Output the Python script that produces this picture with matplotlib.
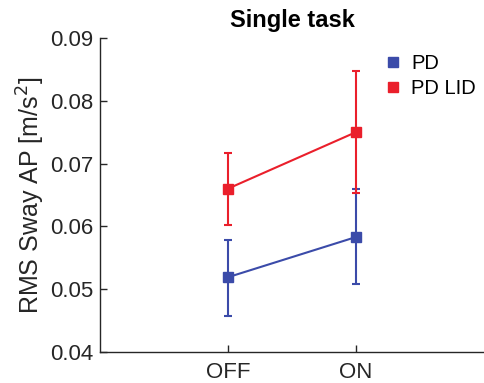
import matplotlib
matplotlib.use("Agg")
import matplotlib.pyplot as plt
from matplotlib.lines import Line2D

plt.rcParams['font.family'] = ['Liberation Sans', 'DejaVu Sans']

conditions = ["OFF", "ON"]
x_pos = [1, 2]
pd_mean = [0.0519, 0.0583]
pd_low = [0.0458, 0.0508]
pd_high = [0.0579, 0.0659]
lid_mean = [0.0660, 0.0750]
lid_low = [0.0602, 0.0653]
lid_high = [0.0717, 0.0848]
series_names = ["PD", "PD LID"]
colors = ["#3b4ba9", "#ea1f2b"]

fig = plt.figure(figsize=(4.85, 3.83), dpi=100)
ax = fig.add_axes([0.206, 0.081, 0.792, 0.820])

for mean, lo, hi, c in [(pd_mean, pd_low, pd_high, colors[0]),
                        (lid_mean, lid_low, lid_high, colors[1])]:
    yerr = [[m - l for m, l in zip(mean, lo)], [h - m for m, h in zip(mean, hi)]]
    ax.errorbar(x_pos, mean, yerr=yerr, color=c, marker='s', markersize=7.5,
                linewidth=1.5, elinewidth=1.5, capsize=3, capthick=1.5)

ax.set_xlim(0, 3)
ax.set_ylim(0.04, 0.09)
ax.set_xticks(x_pos)
ax.set_xticklabels(conditions)
ax.set_yticks([0.04, 0.05, 0.06, 0.07, 0.08, 0.09])
ax.set_yticklabels(["0.04", "0.05", "0.06", "0.07", "0.08", "0.09"])
ax.spines['top'].set_visible(False)
ax.spines['right'].set_visible(False)
for s in ['left', 'bottom']:
    ax.spines[s].set_color('#262626')
    ax.spines[s].set_linewidth(1.0)
ax.tick_params(direction='in', length=5, labelsize=16, colors='#262626', width=1.0)
ax.tick_params(axis='y', pad=5)
ax.tick_params(axis='x', pad=7.5)
ax.set_ylabel("RMS Sway AP [m/s$^2$]", fontsize=18, color='#262626', labelpad=2)
ax.set_title("Single task", fontsize=17, fontweight='bold', pad=8)

handles = [Line2D([], [], color=c, marker='s', linestyle='none', markersize=7.5) for c in colors]
ax.legend(handles, series_names, loc='upper right', frameon=False, fontsize=14.5,
          handletextpad=0.3, handlelength=1.2, borderaxespad=0.0, labelspacing=0.3,
          bbox_to_anchor=(1.0, 0.975))

fig.savefig("out.png", dpi=100)
